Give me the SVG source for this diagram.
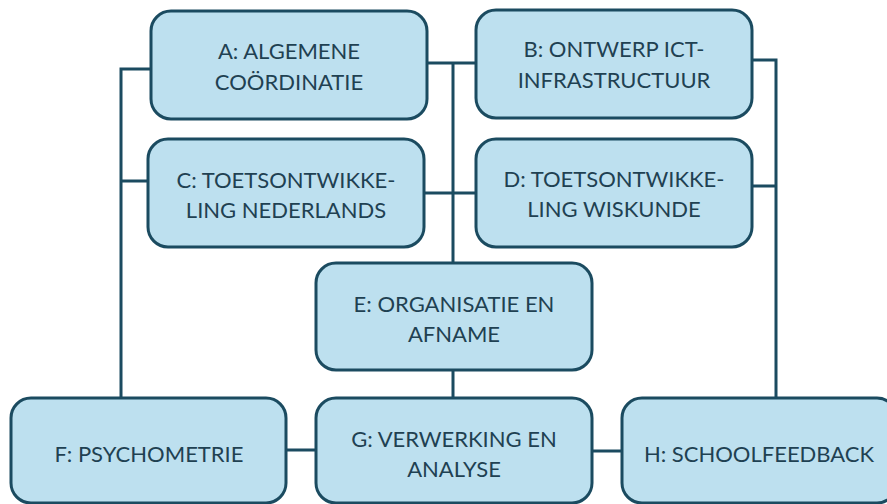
<svg xmlns="http://www.w3.org/2000/svg" width="887" height="504" viewBox="0 0 887 504">
<style>
.box{fill:#bde0ef;stroke:#1b4b60;stroke-width:3}
.lbl{font-family:"Lato","Liberation Sans",sans-serif;font-size:22px;fill:#1f4152;text-anchor:middle}
.con{fill:none;stroke:#1b4b60;stroke-width:3}
</style>
<rect width="887" height="504" fill="#ffffff"/>
<g id="connectors">
<path class="con" d="M151 69 H121 V398 M148 181 H121"/>
<path class="con" d="M427 63 H476 M453 63 V263 M424 193 H476 M453 370 V398"/>
<path class="con" d="M752 60 H776 V398 M752 186 H776"/>
<path class="con" d="M286 450 H316 M592 451 H622"/>
</g>
<g id="A"><rect class="box" x="151" y="11" width="276" height="108" rx="20"/><text class="lbl" x="289" y="59">A: ALGEMENE</text><text class="lbl" x="289" y="90">COÖRDINATIE</text></g>
<g id="B"><rect class="box" x="476" y="10" width="276" height="108" rx="20"/><text class="lbl" x="614" y="57">B: ONTWERP ICT-</text><text class="lbl" x="614" y="88">INFRASTRUCTUUR</text></g>
<g id="C"><rect class="box" x="148" y="139" width="276" height="108" rx="20"/><text class="lbl" x="286" y="188">C: TOETSONTWIKKE-</text><text class="lbl" x="286" y="218">LING NEDERLANDS</text></g>
<g id="D"><rect class="box" x="476" y="139" width="276" height="108" rx="20"/><text class="lbl" x="614" y="187">D: TOETSONTWIKKE-</text><text class="lbl" x="614" y="217">LING WISKUNDE</text></g>
<g id="E"><rect class="box" x="316" y="263" width="276" height="107" rx="20"/><text class="lbl" x="454" y="312">E: ORGANISATIE EN</text><text class="lbl" x="454" y="342">AFNAME</text></g>
<g id="F"><rect class="box" x="11" y="398" width="275" height="105" rx="20"/><text class="lbl" x="149" y="462">F: PSYCHOMETRIE</text></g>
<g id="G"><rect class="box" x="316" y="398" width="276" height="105" rx="20"/><text class="lbl" x="454" y="447">G: VERWERKING EN</text><text class="lbl" x="454" y="477">ANALYSE</text></g>
<g id="H"><rect class="box" x="622" y="398" width="275" height="105" rx="20"/><text class="lbl" x="759" y="462">H: SCHOOLFEEDBACK</text></g>
</svg>
